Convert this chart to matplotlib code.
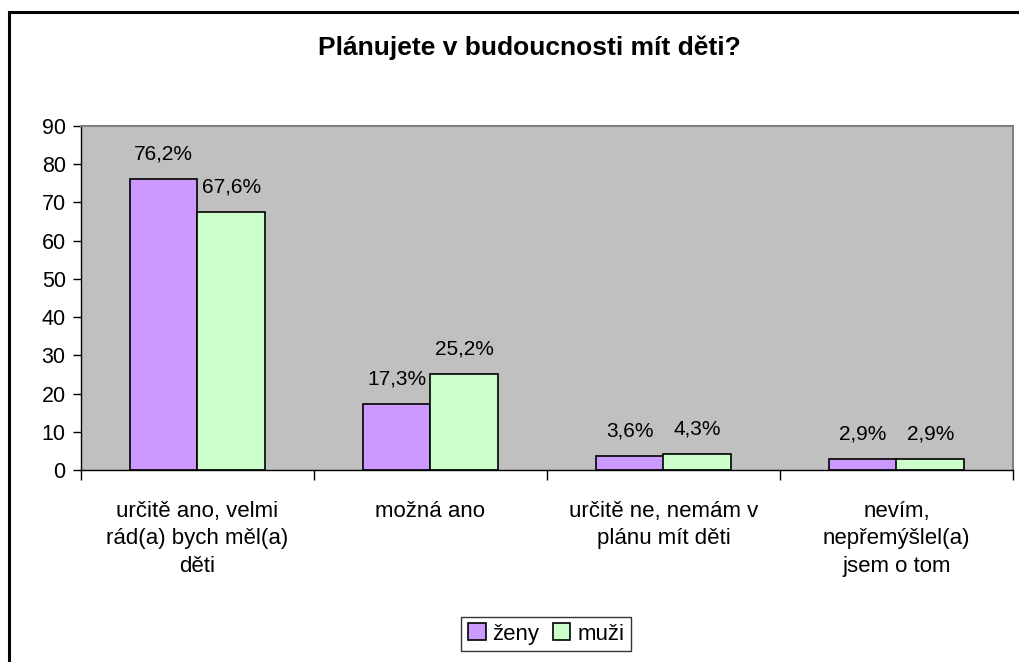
import matplotlib.pyplot as plt
import numpy as np
from matplotlib.patches import Rectangle

plt.rcParams['font.family'] = ['Liberation Sans', 'DejaVu Sans']

categories = ['určitě ano, velmi\nrád(a) bych měl(a)\nděti', 'možná ano',
              'určitě ne, nemám v\nplánu mít děti', 'nevím,\nnepřemýšlel(a)\njsem o tom']
zeny = [76.2, 17.3, 3.6, 2.9]
muzi = [67.6, 25.2, 4.3, 2.9]
zeny_lbl = ['76,2%', '17,3%', '3,6%', '2,9%']
muzi_lbl = ['67,6%', '25,2%', '4,3%', '2,9%']

fig = plt.figure(figsize=(10.2, 6.62), dpi=100)
# outer chart frame
fig.patches.append(Rectangle((9 / 1020, -0.05), 1.2, 1 - 12 / 662 + 0.05,
                             transform=fig.transFigure, fill=False,
                             edgecolor='black', linewidth=2.2))

ax = fig.add_axes([81 / 1020, 1 - 470 / 662, (1013 - 81) / 1020, (470 - 126) / 662])
ax.set_facecolor('#C0C0C0')

x = np.arange(len(categories))
w = 0.29
b1 = ax.bar(x - w / 2, zeny, w, color='#CC99FF', edgecolor='black', linewidth=1.2, label='ženy')
b2 = ax.bar(x + w / 2, muzi, w, color='#CCFFCC', edgecolor='black', linewidth=1.2, label='muži')

for rect, t in zip(b1, zeny_lbl):
    ax.annotate(t, (rect.get_x() + rect.get_width() / 2, rect.get_height()),
                xytext=(0, 11), textcoords='offset points', ha='center', va='bottom', fontsize=15)
for rect, t in zip(b2, muzi_lbl):
    ax.annotate(t, (rect.get_x() + rect.get_width() / 2, rect.get_height()),
                xytext=(0, 11), textcoords='offset points', ha='center', va='bottom', fontsize=15)

ax.set_xlim(-0.5, 3.5)
ax.set_ylim(0, 90)
ax.set_yticks(np.arange(0, 91, 10))
ax.tick_params(axis='y', labelsize=15.5, length=6, width=1, direction='out', pad=5)

ax.set_xticks(np.arange(-0.5, 4, 1))
ax.set_xticklabels([])
ax.tick_params(axis='x', length=7, width=1, direction='out')
ax.set_xticks(x, minor=True)
ax.set_xticklabels(categories, minor=True, fontsize=16, linespacing=1.42)
ax.tick_params(axis='x', which='minor', length=0, pad=22)

for s in ['top', 'right']:
    ax.spines[s].set_color('#808080')
    ax.spines[s].set_linewidth(1.5)
for s in ['left', 'bottom']:
    ax.spines[s].set_color('black')
    ax.spines[s].set_linewidth(1)

fig.text(0.519, 1 - 48 / 662, 'Plánujete v budoucnosti mít děti?', ha='center', va='center',
         fontsize=19, fontweight='bold')

leg = fig.legend(loc='center', bbox_to_anchor=(546 / 1020, 1 - 634 / 662), ncol=2,
                 fontsize=16, frameon=True, fancybox=False, edgecolor='black',
                 handlelength=0.8, handleheight=0.8, handletextpad=0.3, columnspacing=0.6,
                 borderpad=0.3)
leg.get_frame().set_linewidth(1)

fig.savefig('out.png', dpi=100)
